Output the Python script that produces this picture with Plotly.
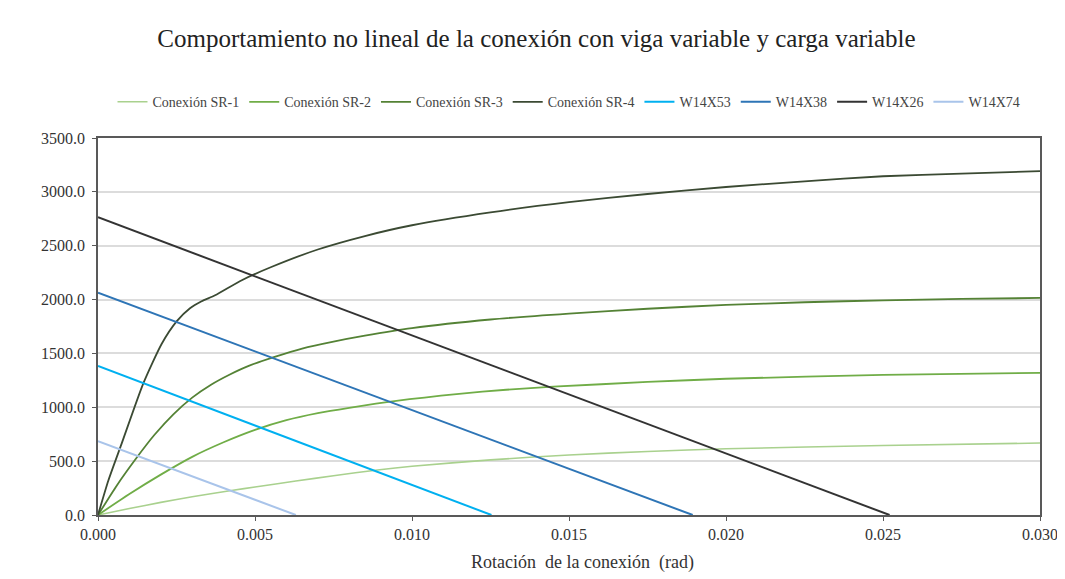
import plotly.graph_objects as go

# ---- data ----
sr1_x = [0, 0.001, 0.002, 0.003, 0.0043, 0.005, 0.0063, 0.0075, 0.0089, 0.010, 0.0125, 0.015, 0.0175, 0.020, 0.025, 0.030]
sr1_y = [0, 60, 117, 170, 230, 260, 315, 365, 418, 452, 512, 557, 590, 615, 645, 668]

sr2_x = [0, 0.001, 0.002, 0.003, 0.004, 0.005, 0.006, 0.007, 0.008, 0.0095, 0.0115, 0.0130, 0.0145, 0.0175, 0.0200, 0.0250, 0.0300]
sr2_y = [0, 195, 375, 540, 675, 790, 880, 945, 995, 1060, 1125, 1163, 1191, 1235, 1265, 1300, 1320]

sr3_x = [0, 0.0006, 0.0012, 0.0018, 0.0024, 0.0030, 0.0036, 0.0042, 0.0048, 0.0056, 0.0065, 0.0075, 0.0085, 0.0100, 0.0125, 0.0150, 0.0175, 0.0200, 0.0225, 0.0250, 0.0275, 0.0300]
sr3_y = [0, 275, 520, 745, 935, 1090, 1210, 1305, 1385, 1465, 1545, 1610, 1665, 1735, 1815, 1870, 1915, 1950, 1975, 1993, 2006, 2015]

sr4_x = [0, 0.00033, 0.00075, 0.00144, 0.00203, 0.00251, 0.00293, 0.00330, 0.00373, 0.00458, 0.0055, 0.0070, 0.0085, 0.0100, 0.0125, 0.0150, 0.0175, 0.0200, 0.0225, 0.0250, 0.0275, 0.0300]
sr4_y = [0, 320, 660, 1220, 1590, 1800, 1920, 1985, 2040, 2180, 2300, 2465, 2590, 2690, 2810, 2905, 2980, 3045, 3098, 3145, 3170, 3192]

w53_x = [0, 0.01253]
w53_y = [1383, 0]
w38_x = [0, 0.01894]
w38_y = [2064, 0]
w26_x = [0, 0.02521]
w26_y = [2764, 0]
w74_x = [0, 0.0063]
w74_y = [686, 0]

series = [
    ("Conexión SR-1", sr1_x, sr1_y, "#a9d18e", 1.6),
    ("Conexión SR-2", sr2_x, sr2_y, "#70ad47", 1.8),
    ("Conexión SR-3", sr3_x, sr3_y, "#548235", 1.8),
    ("Conexión SR-4", sr4_x, sr4_y, "#3b4a33", 1.8),
    ("W14X53", w53_x, w53_y, "#00b0f0", 2.0),
    ("W14X38", w38_x, w38_y, "#2e75b6", 2.0),
    ("W14X26", w26_x, w26_y, "#333333", 2.0),
    ("W14X74", w74_x, w74_y, "#a9c4ea", 2.0),
]

fig = go.Figure()
for name, xs, ys, color, w in series:
    fig.add_trace(go.Scatter(x=xs, y=ys, mode="lines", name=name,
                             line=dict(color=color, width=w, shape="spline", smoothing=0.6)))

serif = "Liberation Serif, Times New Roman, serif"
# page body has an 8px margin, so the figure is laid out 8px up/left of reference coords
fig.update_layout(
    width=1057, height=571,
    paper_bgcolor="white", plot_bgcolor="white",
    margin=dict(l=90, r=25, t=130, b=64, autoexpand=False),
    font=dict(family=serif, color="#333333"),
    title=dict(text="Comportamiento no lineal de la conexión con viga variable y carga variable",
               x=0.5, xanchor="center", y=0.947, yanchor="middle",
               font=dict(family=serif, size=25, color="#222222")),
    legend=dict(orientation="h", x=0.5, xanchor="center",
                y=1.095, yanchor="middle",
                font=dict(family=serif, size=14, color="#444444"),
                itemwidth=30, tracegroupgap=0, bgcolor="rgba(0,0,0,0)"),
    showlegend=True,
    annotations=[dict(text="Rotación  de la conexión  (rad)", xref="paper", yref="paper",
                      x=0.514, y=-0.125, xanchor="center", yanchor="middle", showarrow=False,
                      font=dict(family=serif, size=18, color="#333333"))],
)
fig.update_xaxes(
    range=[0, 0.030], dtick=0.005, tickformat=".3f", automargin=False,
    showgrid=False, zeroline=False,
    showline=True, linecolor="#595959", linewidth=1.5, mirror=True,
    ticks="outside", ticklen=4, tickcolor="#595959",
    tickfont=dict(family=serif, size=16, color="#333333"),
)
fig.update_yaxes(
    range=[0, 3500], dtick=500, tickformat=".1f", automargin=False,
    showgrid=True, gridcolor="#dcdcdc", gridwidth=1.5, zeroline=False,
    showline=True, linecolor="#595959", linewidth=1.5, mirror=True,
    ticks="outside", ticklen=4, tickcolor="#595959", ticklabelstandoff=4,
    tickfont=dict(family=serif, size=16, color="#333333"),
)

fig.write_html("out.html")
